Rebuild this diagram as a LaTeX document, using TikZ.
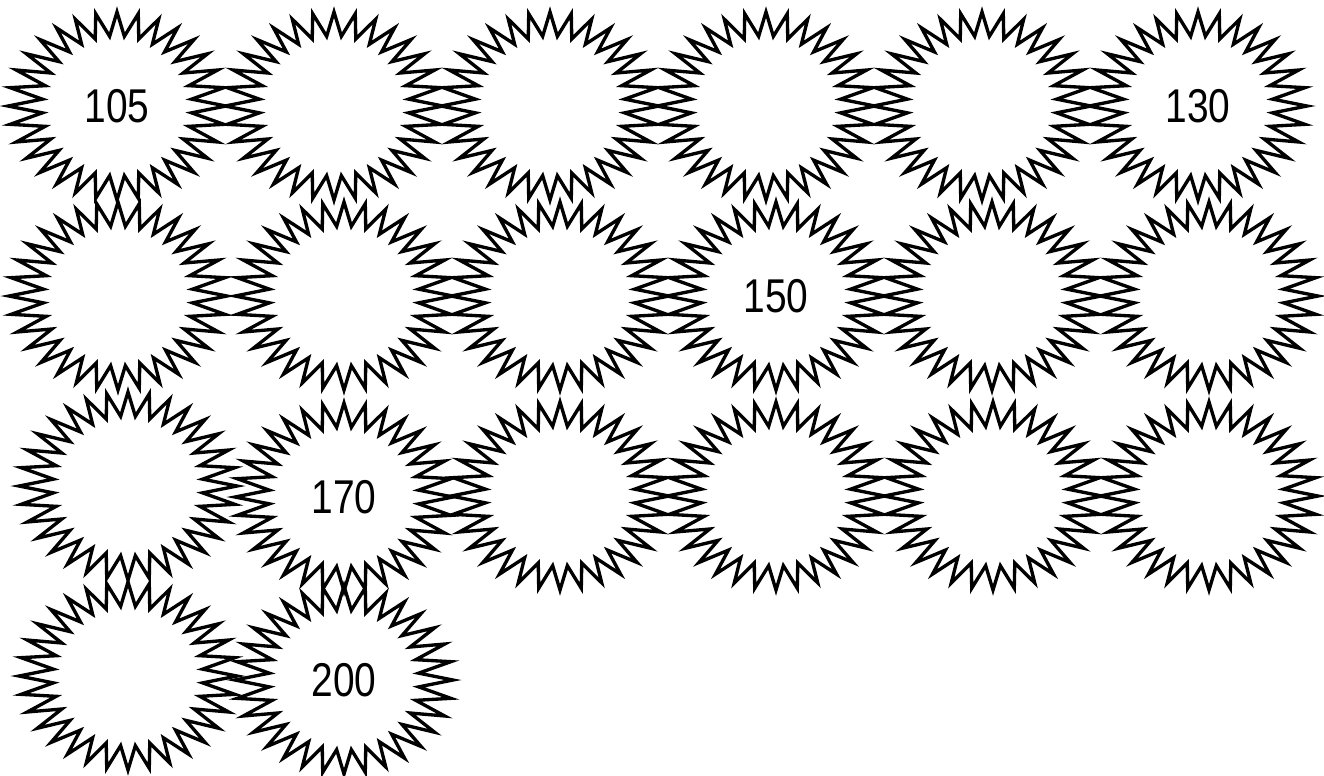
\documentclass[tikz,border=0pt]{standalone}
\usepackage{fontspec}
\setmainfont{Liberation Sans}[FakeStretch=0.82]
\usepackage{tikz}

% star with 32 points round a named node
\newcommand{\burstnode}[3]{%
    \node (#1) [burstlabel] at (#2) {#3};
    \draw [burstline, shift={(#1)}] plot [samples=64, domain=0:63, variable=\k]
        ({(mod(\k,2)==0 ? 109 : 75)*cos(\k*5.625)}, {(mod(\k,2)==0 ? 94 : 70)*sin(\k*5.625)}) -- cycle;
}

\begin{document}
\begin{tikzpicture}[
        x=0.02cm, y=-0.02cm,
        burstlabel/.style = {circle, inner sep=0pt, minimum size=2.8cm, font=\fontsize{27}{30}\selectfont},
        burstline/.style = {draw=black, line width=1.9pt, line join=miter}
    ]
        \useasboundingbox (0,0) rectangle (1324,775);

        % first row
        \burstnode{b11}{117,106}{105}
        \burstnode{b12}{334,106}{}
        \burstnode{b13}{550,106}{}
        \burstnode{b14}{766,106}{}
        \burstnode{b15}{982,106}{}
        \burstnode{b16}{1198,106}{130}

        % second row
        \burstnode{b21}{118,296}{}
        \burstnode{b22}{344,296}{}
        \burstnode{b23}{560,296}{}
        \burstnode{b24}{776,296}{150}
        \burstnode{b25}{992,296}{}
        \burstnode{b26}{1209,296}{}

        % third row
        \burstnode{b31}{128,486}{}
        \burstnode{b32}{344,497}{170}
        \burstnode{b33}{560,496}{}
        \burstnode{b34}{776,496}{}
        \burstnode{b35}{993,496}{}
        \burstnode{b36}{1209,496}{}

        % last row
        \burstnode{b41}{128,676}{}
        \burstnode{b42}{344,680}{200}

    \end{tikzpicture}
\end{document}
